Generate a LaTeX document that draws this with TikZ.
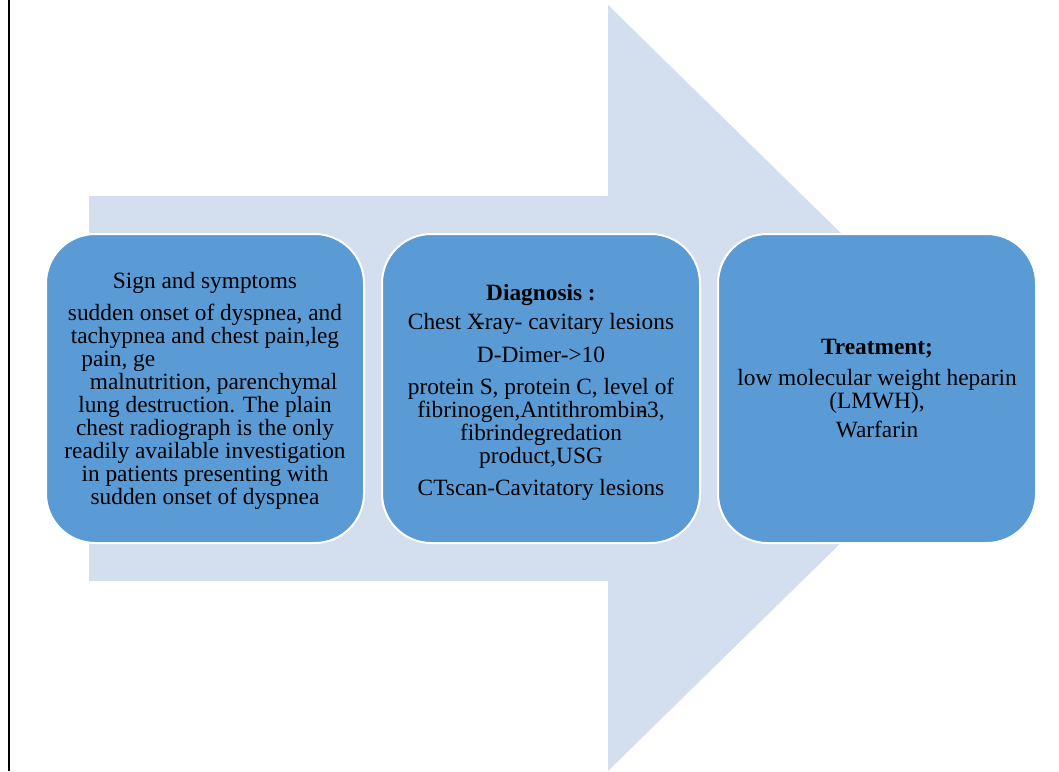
\documentclass[tikz,border=0pt]{standalone}
\usepackage{fontspec}
\setmainfont{Liberation Serif}
\usetikzlibrary{positioning}
\definecolor{arrowfill}{HTML}{D3DEEF}
\definecolor{boxfill}{HTML}{5B9BD5}

\begin{document}
\begin{tikzpicture}[x=0.75pt,y=-0.75pt,
    node distance=12pt,
    stage/.style={draw=white, line width=1.5pt, fill=boxfill, rounded corners=37pt,
      minimum width=238.5pt, minimum height=231.75pt, inner sep=0pt, align=center,
      font=\fontsize{17.5}{17.25}\selectfont},
  ]
  \useasboundingbox (0,0) rectangle (1059,771);
  \draw[line width=1.1pt] (9,0) -- (9,771);
  % big arrow behind the stages
  \fill[arrowfill] (89,196) -- (608,196) -- (608,5) -- (999,388) -- (608,771)
    -- (608,581) -- (89,581) -- cycle;

  \node[stage] (sign) at (205,388.5) {\rule{0pt}{16pt}Sign and symptoms\\[6.5pt]
    sudden onset of dyspnea, and\\
    tachypnea and chest pain,leg\\
    pain, ge\rule{130pt}{0pt}\\
    \rule{13pt}{0pt}malnutrition, parenchymal\\
    lung destruction. The plain\\
    chest radiograph is the only\\
    readily available investigation\\
    in patients presenting with\\
    sudden onset of dyspnea};
  \node[stage, right=of sign] (diag) {\rule{0pt}{18pt}\textbf{Diagnosis :}\\[5pt]
    Chest X\kern-5pt-ray- cavitary lesions\\[7pt]
    D-Dimer->10\\[7pt]
    protein S, protein C, level of\\
    fibrinogen,Antithrombin\kern-6pt-3,\\
    fibrindegredation\\
    product,USG\\[7pt]
    CTscan-Cavitatory lesions};
  \node[stage, right=of diag] (treat) {\textbf{Treatment;}\\[6pt]
    low molecular weight heparin\\
    (LMWH),\\[5pt]
    Warfarin};
\end{tikzpicture}
\end{document}
